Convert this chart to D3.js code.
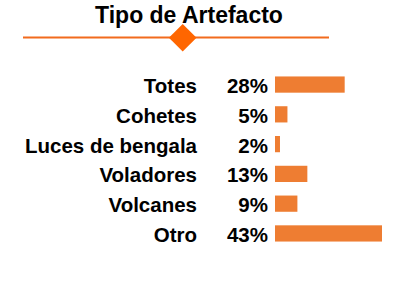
<!DOCTYPE html>
<html><head><meta charset="utf-8">
<script src="https://cdn.jsdelivr.net/npm/d3@7"></script>
<style>body{margin:0;background:#fff}svg{display:block}</style>
</head><body>
<script>
const categories = ["Totes","Cohetes","Luces de bengala","Voladores","Volcanes","Otro"];
const values = [28,5,2,13,9,43];
const title = "Tipo de Artefacto";

const W=407,H=283;
const svg=d3.select("body").append("svg").attr("width",W).attr("height",H);
const font="'Liberation Sans', Arial, sans-serif";

svg.append("text").attr("x",189).attr("y",22.5).attr("text-anchor","middle")
  .attr("font-family",font).attr("font-weight","bold").attr("font-size",23).attr("fill","#000").text(title);
svg.append("line").attr("x1",23).attr("x2",329).attr("y1",37.5).attr("y2",37.5)
  .attr("stroke","#f26b1d").attr("stroke-width",2);
svg.append("path").attr("d","M182.7,24 L196.5,37.8 L182.7,51.6 L168.9,37.8 Z").attr("fill","#ff6600");

const x=d3.scaleLinear().domain([0,43]).range([275,382]);
const y=d3.scaleBand().domain(categories).range([70.5,247.5]).paddingInner(0.455).paddingOuter(0.2);

svg.selectAll("rect.bar").data(categories).join("rect").attr("class","bar")
  .attr("x",x(0)).attr("y",d=>y(d)).attr("height",y.bandwidth())
  .attr("width",(d,i)=>x(values[i])-x(0)).attr("fill","#ee7d32");

svg.selectAll("text.lab").data(categories).join("text").attr("class","lab")
  .attr("x",197).attr("y",d=>y(d)+y.bandwidth()/2+8.5).attr("text-anchor","end")
  .attr("font-family",font).attr("font-weight","bold").attr("font-size",20.5).text(d=>d);
svg.selectAll("text.pct").data(categories).join("text").attr("class","pct")
  .attr("x",268).attr("y",d=>y(d)+y.bandwidth()/2+8.5).attr("text-anchor","end")
  .attr("font-family",font).attr("font-weight","bold").attr("font-size",20.5).text((d,i)=>values[i]+"%");
</script>
</body></html>
